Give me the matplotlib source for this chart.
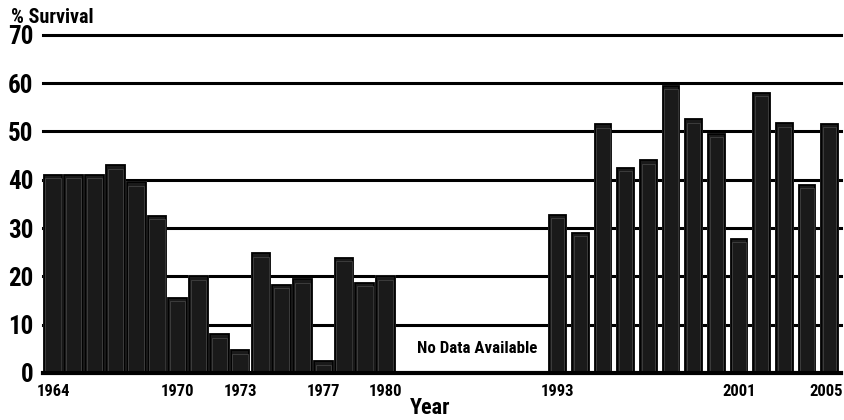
import numpy as np
import matplotlib
matplotlib.use('Agg')
import matplotlib.pyplot as plt
from matplotlib.transforms import ScaledTranslation

plt.rcParams['font.family'] = ['Roboto Condensed', 'Liberation Sans Narrow', 'Liberation Sans', 'DejaVu Sans']
plt.rcParams['font.weight'] = 'bold'

# survival data, two periods with a gap between them
years_early = list(range(1964, 1981))
surv_early = [41, 41, 41, 43, 39.5, 32.5, 15.5, 20, 8, 4.7, 24.8, 18.3, 19.4, 2.4, 23.9, 18.7, 20]
years_late = list(range(1993, 2006))
surv_late = [32.7, 29, 51.5, 42.5, 44, 59.5, 52.5, 49.5, 27.8, 58, 51.7, 39, 51.6]

tick_years = [1964, 1970, 1973, 1977, 1980, 1993, 2001, 2005]
y_ticks = [0, 10, 20, 30, 40, 50, 60, 70]


def year_pos(y):
    # the gap 1981-1992 is compressed on the drawn axis
    if y <= 1980:
        return y - 1964
    return 24.28 + (y - 1993) * 1.09


x_early = np.array([year_pos(y) for y in years_early])
x_late = np.array([year_pos(y) for y in years_late])

fig = plt.figure(figsize=(8.44, 4.2), dpi=100)
ax = fig.add_axes([0.051, 0.112, 0.946, 0.805])
ax.set_xlim(-0.48, 37.93)
ax.set_ylim(0, 70)

# gridlines
for v in y_ticks[1:]:
    ax.axhline(v, color='black', lw=2.2, zorder=1, clip_on=False)

for xs, vals, w in [(x_early, surv_early, 0.9), (x_late, surv_late, 0.8)]:
    vals = np.array(vals)
    # thin white halo breaks the gridlines next to each bar
    ax.bar(xs, vals, width=w, color='white', edgecolor='white', linewidth=1.4, zorder=2)
    ax.bar(xs, vals, width=w, color='#1a1a1a', edgecolor='black', linewidth=1.3, zorder=3)
    # faint inner bevel line
    ax.bar(xs, vals - 0.7, width=w - 0.16, color='none', edgecolor='#4a4a4a', linewidth=0.5, zorder=3.5)

ax.axhline(0, color='black', lw=3, zorder=4, clip_on=False)

for s in ax.spines.values():
    s.set_visible(False)

ax.set_yticks(y_ticks)
ax.set_yticklabels([str(v) for v in y_ticks], fontsize=18, fontweight='bold')
ax.tick_params(axis='y', length=0, pad=7)

ax.set_xticks([year_pos(y) for y in tick_years])
ax.set_xticklabels([str(y) for y in tick_years], fontsize=12, fontweight='bold')
ax.tick_params(axis='x', length=0, pad=8)
last = ax.get_xticklabels()[-1]
last.set_transform(last.get_transform() + ScaledTranslation(-3 / 100, 0, fig.dpi_scale_trans))

fig.text(0.013, 0.935, '% Survival', fontsize=14.5, fontweight='bold', ha='left', va='bottom')
fig.text(0.51, 0.003, 'Year', fontsize=16, fontweight='bold', ha='center', va='bottom')
ax.text(20.4, 5.0, 'No Data Available', fontsize=12.2, fontweight='bold', ha='center', va='center')

fig.savefig('out.png', dpi=100, facecolor='white')
